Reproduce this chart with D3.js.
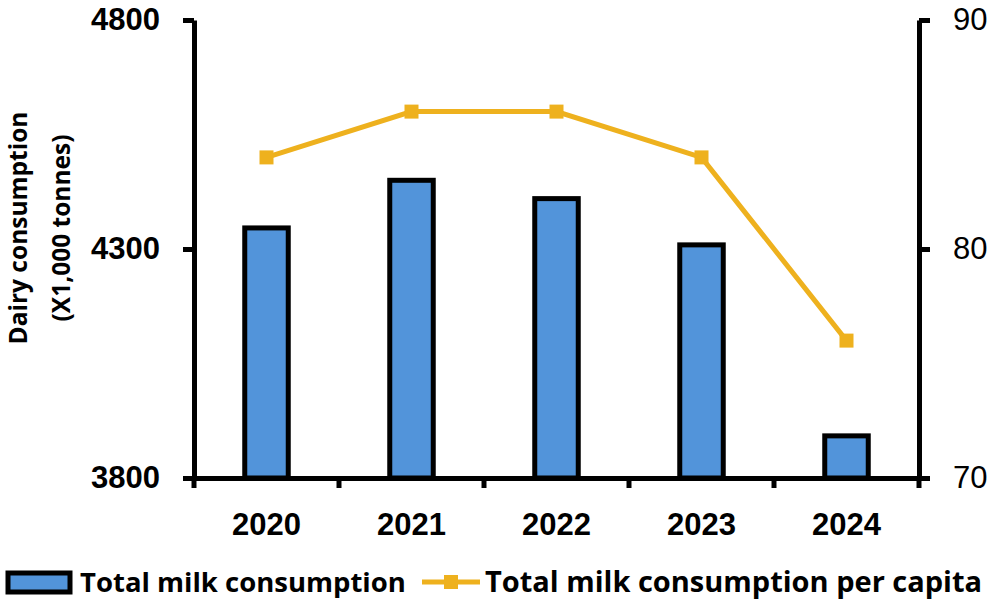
<!DOCTYPE html>
<html>
<head>
<meta charset="utf-8">
<script src="https://cdn.jsdelivr.net/npm/d3@7"></script>
<style>
  body { margin: 0; background: #fff; }
  svg { display: block; font-family: "Open Sans", sans-serif; }
</style>
</head>
<body>
<div id="chart"></div>
<script>
// data
const years = ["2020", "2021", "2022", "2023", "2024"];
const totalMilk = [4346, 4450, 4410, 4309, 3892];   // x1,000 tonnes
const perCapita = [84, 86, 86, 84, 76];             // right axis
const leftTicks = [3800, 4300, 4800];
const rightTicks = [70, 80, 90];

const W = 992, H = 602;
const margin = {top: 20, right: 73, bottom: 124, left: 194};
const barColor = "#5294da";
const lineColor = "#eeb11e";

const svg = d3.select("#chart").append("svg")
  .attr("width", W).attr("height", H);

const x = d3.scaleBand().domain(years)
  .range([margin.left, W - margin.right])
  .paddingInner(0.7).paddingOuter(0.35);
const yL = d3.scaleLinear().domain([3800, 4800]).range([H - margin.bottom, margin.top]);
const yR = d3.scaleLinear().domain([70, 90]).range([H - margin.bottom, margin.top]);
const cx = d => x(d) + x.bandwidth() / 2;

// bars
svg.append("g").selectAll("rect")
  .data(years)
  .join("rect")
  .attr("x", d => x(d))
  .attr("width", x.bandwidth())
  .attr("y", (d, i) => yL(totalMilk[i]))
  .attr("height", (d, i) => yL(3800) - yL(totalMilk[i]))
  .attr("fill", barColor)
  .attr("stroke", "#000")
  .attr("stroke-width", 5);

// axes
const axisStyle = g => {
  g.select(".domain").attr("stroke", "#000").attr("stroke-width", 5);
  g.selectAll(".tick line").attr("stroke", "#000").attr("stroke-width", 5);
};

svg.append("g")
  .attr("transform", `translate(${margin.left},0)`)
  .call(d3.axisLeft(yL).tickValues(leftTicks).tickFormat(d3.format("d"))
    .tickSize(11).tickSizeOuter(0).tickPadding(23))
  .call(axisStyle)
  .call(g => g.selectAll(".tick text")
    .attr("fill", "#000").style("font-size", "31px").style("font-weight", "bold"));

svg.append("g")
  .attr("transform", `translate(${W - margin.right},0)`)
  .call(d3.axisRight(yR).tickValues(rightTicks).tickSize(11).tickSizeOuter(0).tickPadding(23))
  .call(axisStyle)
  .call(g => g.selectAll(".tick text")
    .attr("fill", "#000").style("font-size", "31px"));

// x axis: labels centred, ticks on category boundaries
const xg = svg.append("g")
  .attr("transform", `translate(0,${H - margin.bottom})`)
  .call(d3.axisBottom(x).tickSize(0).tickSizeOuter(0).tickPadding(35))
  .call(axisStyle)
  .call(g => g.selectAll(".tick text")
    .attr("fill", "#000").style("font-size", "31px").style("font-weight", "bold"));

const bounds = years.map(d => cx(d) - x.step() / 2).concat([cx(years[years.length - 1]) + x.step() / 2]);
xg.selectAll(".bound")
  .data(bounds)
  .join("line")
  .attr("x1", d => d).attr("x2", d => d)
  .attr("y1", 0).attr("y2", 10)
  .attr("stroke", "#000").attr("stroke-width", 5);

// per capita line
const line = d3.line()
  .x((d, i) => cx(years[i]))
  .y(d => yR(d));

svg.append("path")
  .datum(perCapita)
  .attr("d", line)
  .attr("fill", "none")
  .attr("stroke", lineColor)
  .attr("stroke-width", 5);

svg.append("g").selectAll("rect")
  .data(perCapita)
  .join("rect")
  .attr("x", (d, i) => cx(years[i]) - 7)
  .attr("y", d => yR(d) - 7)
  .attr("width", 14).attr("height", 14)
  .attr("fill", lineColor);

// y axis title
svg.append("text")
  .attr("transform", "translate(27,228) rotate(-90)")
  .attr("text-anchor", "middle")
  .style("font-size", "24.5px").style("font-weight", "bold")
  .text("Dairy consumption");
svg.append("text")
  .attr("transform", "translate(70,228) rotate(-90)")
  .attr("text-anchor", "middle")
  .style("font-size", "24.5px").style("font-weight", "bold")
  .text("(X1,000 tonnes)");

// legend
const lg = svg.append("g");
lg.append("rect")
  .attr("x", 8).attr("y", 573).attr("width", 62).attr("height", 19)
  .attr("fill", barColor).attr("stroke", "#000").attr("stroke-width", 5);
lg.append("text")
  .attr("x", 80).attr("y", 592)
  .style("font-size", "27.5px").style("font-weight", "bold")
  .text("Total milk consumption");
lg.append("line")
  .attr("x1", 422).attr("x2", 480).attr("y1", 582).attr("y2", 582)
  .attr("stroke", lineColor).attr("stroke-width", 5);
lg.append("rect")
  .attr("x", 444).attr("y", 575).attr("width", 14).attr("height", 14)
  .attr("fill", lineColor);
lg.append("text")
  .attr("x", 485).attr("y", 592)
  .style("font-size", "29px").style("font-weight", "bold")
  .text("Total milk consumption per capita");
</script>
</body>
</html>
